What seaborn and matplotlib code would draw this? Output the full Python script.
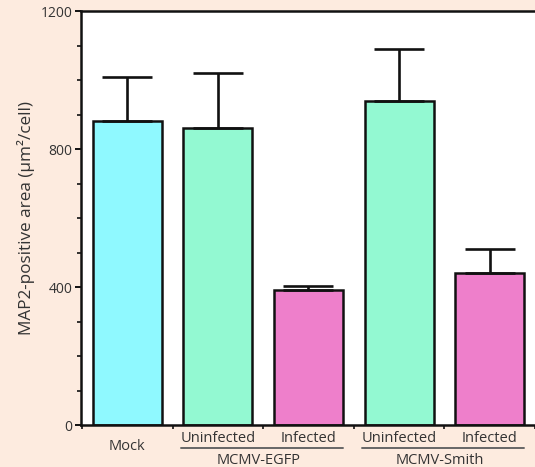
import numpy as np
import pandas as pd
import seaborn as sns
import matplotlib.pyplot as plt
from matplotlib.ticker import MultipleLocator
import matplotlib.transforms as mtransforms

# values
conditions = ["Mock", "EGFP Uninfected", "EGFP Infected", "Smith Uninfected", "Smith Infected"]
tick_names = ["Mock", "Uninfected", "Infected", "Uninfected", "Infected"]
means = [881, 860, 391, 940, 441]
errs = [128, 160, 12, 149, 69]
colors = ["#8ff9ff", "#93f9d2", "#ee7fcb", "#93f9d2", "#ee7fcb"]
groups = ["MCMV-EGFP", "MCMV-Smith"]

sns.set_style("ticks")
plt.rcParams['font.family'] = ['Open Sans', 'DejaVu Sans']

df = pd.DataFrame({"cond": conditions, "val": means})

fig = plt.figure(figsize=(5.35, 4.67), dpi=100)
fig.patch.set_facecolor("#fdebdf")
ax = fig.add_axes([0.1514, 0.0899, 0.8486, 0.8865])
ax.set_facecolor("white")

sns.barplot(data=df, x="cond", y="val", hue="cond", palette=colors, legend=False,
            saturation=1, errorbar=None, width=0.76, edgecolor="#111111", linewidth=1.8, ax=ax)
ax.errorbar(range(len(means)), means, yerr=[np.zeros(len(errs)), errs], fmt="none",
            ecolor="#111111", elinewidth=1.9, capsize=18, capthick=1.9, zorder=1)

ax.set_ylim(0, 1200)
ax.set_xlim(-0.51, 4.466)
ax.yaxis.set_major_locator(MultipleLocator(400))
ax.yaxis.set_minor_locator(MultipleLocator(100))
ax.tick_params(axis="y", which="major", length=4, width=1.4, labelsize=10, colors="#111111",
               labelcolor="#333333", pad=2)
ax.tick_params(axis="y", which="minor", length=3, width=1.2, colors="#111111")
ax.set_xticks([])
ax.set_xticks(np.arange(-0.5, 5, 1), minor=True)
ax.tick_params(axis="x", which="minor", length=3, width=1.2, colors="#111111")
ax.set_xlabel("")
ax.set_ylabel("MAP2-positive area (µm²/cell)", fontsize=12.3, color="#333333", labelpad=4)

for s in ["left", "bottom", "top"]:
    ax.spines[s].set_linewidth(1.8)
    ax.spines[s].set_color("#111111")
ax.spines["right"].set_visible(False)

trans = mtransforms.blended_transform_factory(ax.transData, fig.transFigure)
txt = dict(transform=trans, ha="center", va="center", fontsize=10.5, color="#333333")
ax.text(0, 1 - 447 / 467, tick_names[0], **txt)
for i in range(1, 5):
    ax.text(i, 1 - 438 / 467, tick_names[i], **txt)
for g, (a, b) in enumerate([(1, 2), (3, 4)]):
    ax.plot([a - 0.41, b + 0.38], [1 - 448 / 467] * 2, transform=trans, color="#666666",
            lw=1.4, clip_on=False)
    ax.text((a + b) / 2 - 0.05, 1 - 460 / 467, groups[g], **txt)

fig.savefig("out.png", dpi=100, facecolor=fig.get_facecolor())
